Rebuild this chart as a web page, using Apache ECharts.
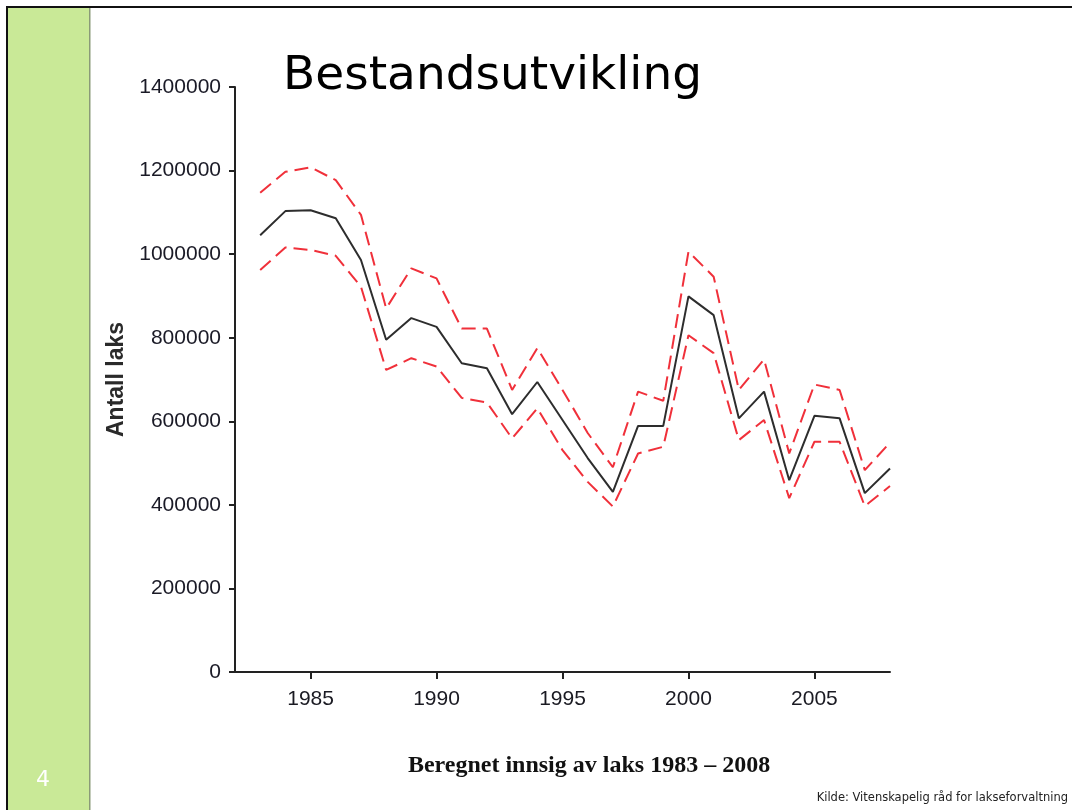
<!DOCTYPE html>
<html>
<head>
<meta charset="utf-8">
<script src="https://cdn.jsdelivr.net/npm/echarts@6/dist/echarts.min.js"></script>
<style>
html,body{margin:0;padding:0;background:#fff;}
#chart{width:1072px;height:810px;}
</style>
</head>
<body>
<div id="chart"></div>
<script>
const years = [1983,1984,1985,1986,1987,1988,1989,1990,1991,1992,1993,1994,1995,1996,1997,1998,1999,2000,2001,2002,2003,2004,2005,2006,2007,2008];
const estimate = [1045000,1103000,1105000,1086000,986000,795000,847000,826000,739000,727000,617000,694000,603000,512000,431000,589000,589000,899000,854000,607000,671000,459000,613000,607000,428000,487000];
const upper = [1147000,1197000,1208000,1177000,1094000,870000,966000,942000,822000,822000,675000,775000,675000,572000,490000,671000,649000,1006000,946000,675000,748000,523000,688000,675000,483000,549000];
const lower = [962000,1016000,1010000,996000,922000,723000,751000,731000,656000,645000,559000,631000,531000,455000,396000,523000,539000,806000,763000,555000,603000,416000,551000,551000,397000,445000];
const xTicks = [1985,1990,1995,2000,2005];
const titleText = 'Bestandsutvikling';
const yName = 'Antall laks';
const caption = 'Beregnet innsig av laks 1983 \u2013 2008';
const source = 'Kilde: Vitenskapelig r\u00e5d for lakseforvaltning';
const slideNumber = '4';

const pairs = vals => years.map((y, i) => [y, vals[i]]);
const tickFont = "'Liberation Sans',Arial,sans-serif";

const chart = echarts.init(document.getElementById('chart'), null, {renderer: 'canvas'});
chart.setOption({
  backgroundColor: '#ffffff',
  animation: false,
  grid: {left: 235, right: 182, top: 87, bottom: 138, containLabel: false},
  xAxis: {
    type: 'value', min: 1982, max: 2008,
    axisLine: {show: true, lineStyle: {color: '#222', width: 2}},
    axisTick: {show: true, length: 7, inside: false, customValues: xTicks, lineStyle: {color: '#222', width: 2}},
    axisLabel: {customValues: xTicks, margin: 17, color: '#1a1a22', fontSize: 21, fontFamily: tickFont,
                formatter: v => String(v)},
    splitLine: {show: false}
  },
  yAxis: {
    type: 'value', min: 0, max: 1400000, interval: 200000,
    name: yName, nameLocation: 'middle', nameRotate: 90, nameGap: 99,
    nameTextStyle: {fontSize: 23, fontWeight: 'bold', color: '#2a2a2a', fontFamily: "'Liberation Sans',Arial,sans-serif"},
    axisLine: {show: true, lineStyle: {color: '#222', width: 2}},
    axisTick: {show: true, length: 6, inside: false, lineStyle: {color: '#222', width: 2}},
    axisLabel: {margin: 14, color: '#1a1a26', fontSize: 21, fontFamily: tickFont, formatter: v => String(v)},
    splitLine: {show: false}
  },
  series: [
    {type: 'line', name: 'upper', data: pairs(upper), symbol: 'none', silent: true,
     lineStyle: {color: '#f0303a', width: 2, type: [14, 7]}},
    {type: 'line', name: 'lower', data: pairs(lower), symbol: 'none', silent: true,
     lineStyle: {color: '#f0303a', width: 2, type: [14, 7]}},
    {type: 'line', name: 'estimate', data: pairs(estimate), symbol: 'none', silent: true,
     lineStyle: {color: '#2d2d2d', width: 2}}
  ],
  graphic: [
    {type: 'rect', shape: {x: 7, y: 7, width: 1072, height: 810}, style: {fill: 'none', stroke: '#111', lineWidth: 2}, z: 10},
    {type: 'rect', shape: {x: 8, y: 8, width: 82, height: 810}, style: {fill: '#c9e997'}, z: 5},
    {type: 'rect', shape: {x: 89, y: 8, width: 1.5, height: 810}, style: {fill: '#8a9a78'}, z: 6},
    {type: 'text', x: 43, y: 780, z: 7,
     style: {text: slideNumber, fill: '#ffffff', font: "22px 'DejaVu Sans',Verdana,sans-serif", textAlign: 'center', textVerticalAlign: 'middle'}},
    {type: 'text', x: 283, y: 77, z: 7,
     style: {text: titleText, fill: '#000', font: "47px 'DejaVu Sans',Verdana,sans-serif", textAlign: 'left', textVerticalAlign: 'middle'}},
    {type: 'text', x: 589, y: 766, z: 7,
     style: {text: caption, fill: '#111', font: "bold 24px 'Liberation Serif','Times New Roman',serif", textAlign: 'center', textVerticalAlign: 'middle'}},
    {type: 'text', x: 1068, y: 798, z: 7,
     style: {text: source, fill: '#222', font: "11.5px 'DejaVu Sans',Verdana,sans-serif", textAlign: 'right', textVerticalAlign: 'middle'}}
  ]
});
</script>
</body>
</html>
